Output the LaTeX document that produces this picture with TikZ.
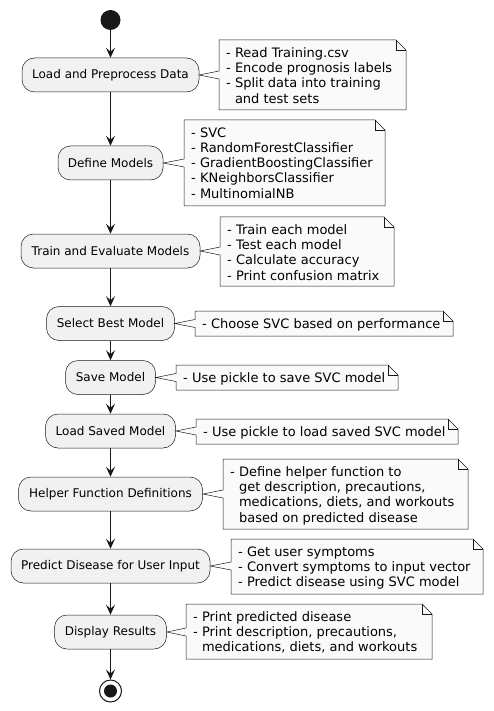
\documentclass[tikz,border=0pt]{standalone}
\usepackage{fontspec}
\setmainfont{DejaVu Sans}
\usetikzlibrary{arrows.meta,calc}
\definecolor{actfill}{HTML}{F1F1F1}
\definecolor{notefill}{HTML}{FAFAFA}
\definecolor{edge}{HTML}{181818}
\tikzset{
  act/.style={draw=edge, line width=0.5pt, fill=actfill, rounded corners=12.5pt,
    inner sep=0pt, font=\fontsize{12}{14}\selectfont},
  notebody/.style={draw=edge, line width=0.5pt, fill=notefill},
  notetext/.style={anchor=north west, inner sep=0pt, align=left,
    font=\fontsize{13}{15.2}\selectfont},
  flow/.style={draw=edge, line width=1pt, -{Stealth[length=10pt,width=9pt,inset=4pt]}},
}
% #1 name, #2 activity node, #3 left, #4 top, #5 right, #6 bottom, #7 text
\newcommand\plnote[7]{%
  \coordinate (#1-l) at (#3,0);
  \coordinate (#1-w) at (#1-l |- #2.east);
  \path[notebody] (#3,#4) -- (#5-10,#4) -- (#5,#4+10) -- (#5,#6) -- (#3,#6)
    -- ($(#1-w)+(0,4)$) -- (#2.east) -- ($(#1-w)+(0,-4)$) -- cycle;
  \draw[edge, line width=0.5pt] (#5-10,#4) -- (#5-10,#4+10) -- (#5,#4+10);
  \node[notetext] (#1) at (#3+7,#4+7.5) {#7};
}
\newcommand\ind{\phantom{- }}
\begin{document}
\begin{tikzpicture}[x=1pt,y=-1pt]
\useasboundingbox (0,0) rectangle (494,711);
\node[circle, fill=edge, minimum size=20pt, inner sep=0pt] (start) at (110.5,20) {};
\node[act, minimum width=177pt, minimum height=34pt] (a1) at (110.5,75) {Load and Preprocess Data};
\node[act, minimum width=105pt, minimum height=34pt] (a2) at (110.5,163) {Define Models};
\node[act, minimum width=179pt, minimum height=34pt] (a3) at (110.5,251) {Train and Evaluate Models};
\node[act, minimum width=128pt, minimum height=34pt] (a4) at (110.5,323.5) {Select Best Model};
\node[act, minimum width=90pt, minimum height=34pt] (a5) at (110.5,377.5) {Save Model};
\node[act, minimum width=130pt, minimum height=34pt] (a6) at (110.5,431) {Load Saved Model};
\node[act, minimum width=184pt, minimum height=34pt] (a7) at (110.5,494) {Helper Function Definitions};
\node[act, minimum width=199pt, minimum height=34pt] (a8) at (110.5,566) {Predict Disease for User Input};
\node[act, minimum width=112pt, minimum height=34pt] (a9) at (110.5,632) {Display Results};
\node[circle, draw=edge, line width=1pt, fill=white, minimum size=22pt, inner sep=0pt] (stop) at (110.5,691) {};
\node[circle, fill=edge, minimum size=13pt, inner sep=0pt] (stopdot) at (stop.center) {};

\draw[flow] (start) -- (a1);
\draw[flow] (a1) -- (a2);
\draw[flow] (a2) -- (a3);
\draw[flow] (a3) -- (a4);
\draw[flow] (a4) -- (a5);
\draw[flow] (a5) -- (a6);
\draw[flow] (a6) -- (a7);
\draw[flow] (a7) -- (a8);
\draw[flow] (a8) -- (a9);
\draw[flow] (a9) -- (stop);

\plnote{n1}{a1}{219}{40}{406}{110}{- Read Training.csv\\- Encode prognosis labels\\- Split data into training\\\ind and test sets}
\plnote{n2}{a2}{184}{120}{385}{206}{- SVC\\- RandomForestClassifier\\- GradientBoostingClassifier\\- KNeighborsClassifier\\- MultinomialNB}
\plnote{n3}{a3}{220}{217}{394}{286}{- Train each model\\- Test each model\\- Calculate accuracy\\- Print confusion matrix}
\plnote{n4}{a4}{195}{311}{453}{336}{- Choose SVC based on performance}
\plnote{n5}{a5}{176}{365}{398}{390}{- Use pickle to save SVC model}
\plnote{n6}{a6}{196}{419}{458}{444}{- Use pickle to load saved SVC model}
\plnote{n7}{a7}{223}{459}{468}{529}{- Define helper function to\\\ind get description, precautions,\\\ind medications, diets, and workouts\\\ind based on predicted disease}
\plnote{n8}{a8}{231}{539}{483}{594}{- Get user symptoms\\- Convert symptoms to input vector\\- Predict disease using SVC model}
\plnote{n9}{a9}{186}{604}{432}{659}{- Print predicted disease\\- Print description, precautions,\\\ind medications, diets, and workouts}
\end{tikzpicture}
\end{document}
